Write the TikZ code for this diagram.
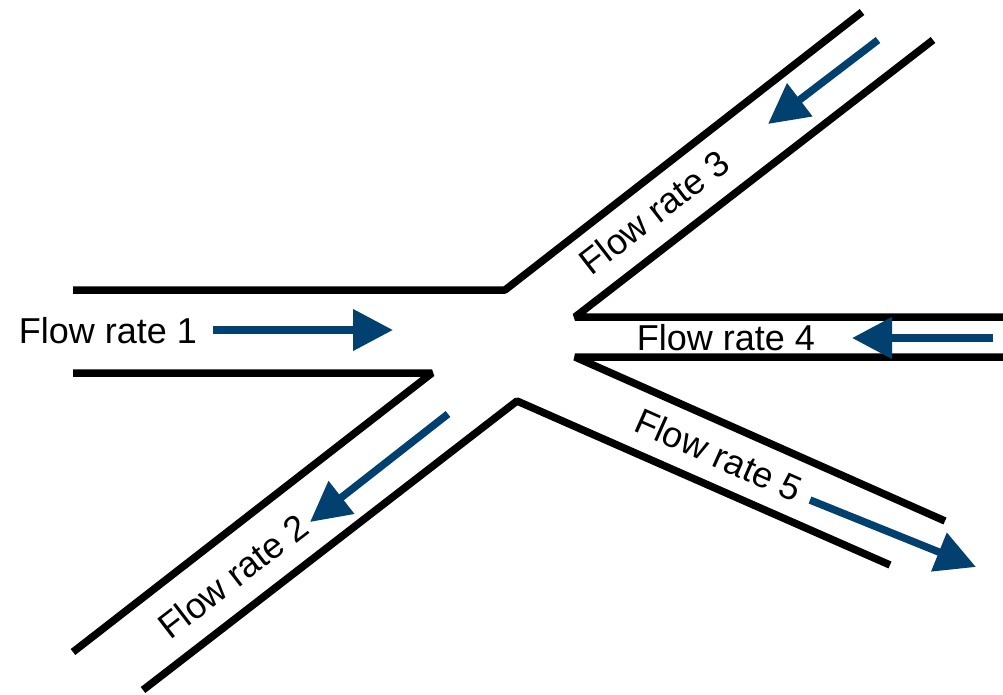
\documentclass[tikz,border=0pt]{standalone}
\usepackage{fontspec}
\setmainfont{Liberation Sans}
\usetikzlibrary{arrows.meta}
\definecolor{flowblue}{HTML}{02416F}
\begin{document}
\begin{tikzpicture}[x=1pt,y=-1pt,
  wall/.style={line width=7.5pt,black,line join=bevel},
  flow/.style={line width=7.5pt,flowblue,-{Triangle[length=40pt,width=40pt]}},
  lbl/.style={inner sep=0pt,font=\fontsize{36}{43}\selectfont}]
\useasboundingbox (0,0) rectangle (1003,694);
% channel walls
\draw[wall] (73,290) -- (505,290) -- (862,12);
\draw[wall] (933,40) -- (575,317) -- (1003,317);
\draw[wall] (1003,357) -- (575,357) -- (945,521);
\draw[wall] (890,565) -- (517,401) -- (143,690);
\draw[wall] (73,652) -- (432,373) -- (73,373);
% arrow end points
\coordinate (a1s) at (213,330); \coordinate (a1e) at (393,330);
\coordinate (a3s) at (878,40);  \coordinate (a3e) at (768,124);
\coordinate (a4s) at (993,338); \coordinate (a4e) at (852,338);
\coordinate (a2s) at (448,414); \coordinate (a2e) at (310,522);
\coordinate (a5s) at (810,500); \coordinate (a5e) at (976,567);
\draw[flow] (a1s) -- (a1e);
\draw[flow] (a3s) -- (a3e);
\draw[flow] (a4s) -- (a4e);
\draw[flow] (a2s) -- (a2e);
\draw[flow] (a5s) -- (a5e);
% labels
\node[lbl] (l1) at (108,331) {Flow rate 1};
\node[lbl] (l4) at (726,338) {Flow rate 4};
\node[lbl,rotate=37.7] (l3) at (654,212) {Flow rate 3};
\node[lbl,rotate=37.6] (l2) at (233,576) {Flow rate 2};
\node[lbl,rotate=-23.9] (l5) at (719,455) {Flow rate 5};
\end{tikzpicture}
\end{document}
